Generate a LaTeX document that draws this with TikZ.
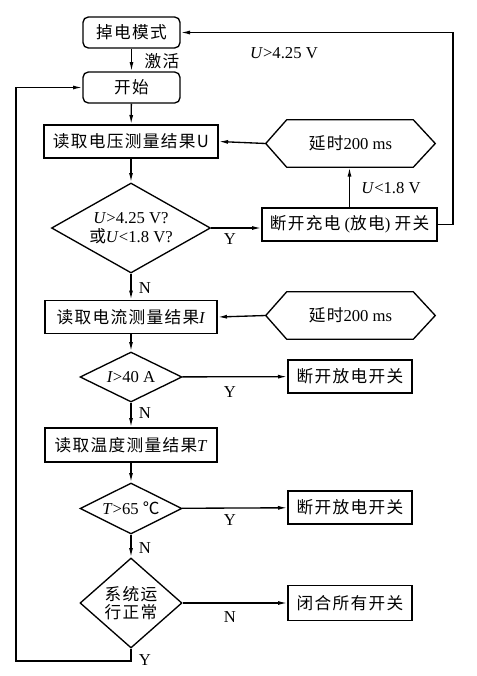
\documentclass[tikz,border=0pt]{standalone}
\usepackage{fontspec}
\setmainfont{Liberation Serif}
\newfontfamily\cjk[LetterSpace=8]{Noto Sans CJK SC}
\usetikzlibrary{arrows.meta}
\usetikzlibrary{shapes.geometric}

\begin{document}
\begin{tikzpicture}[x=0.75pt,y=0.75pt,yscale=-1,xscale=1,
  every node/.style={font=\fontsize{12.5}{14}\selectfont},
  arr/.style={line width=1pt,-{Latex[length=7pt,width=3pt]}},
  termbox/.style={draw,line width=1pt,rounded corners=4pt,minimum width=72.75pt,minimum height=23.25pt,inner sep=0pt},
  procbox/.style={draw,line width=1pt,minimum height=24.75pt,inner sep=0pt},
  decide/.style={draw,line width=1pt,diamond,inner sep=0pt,align=center},
  waitbox/.style={minimum width=126.75pt,minimum height=35.25pt,inner sep=0pt},
  lbl/.style={inner sep=0.75pt}
]
\useasboundingbox (0,0) rectangle (477,676);

\node[termbox] (pd) at (131.5,32.5) {\cjk 掉电模式};
\node[termbox] (start) at (131.5,87.5) {\cjk 开始};
\node[procbox,minimum width=130.5pt] (vbox) at (131,141.5) {\cjk 读取电压测量结果U};
\node[waitbox] (w1) at (350.5,143.5) {{\cjk 延时}200 ms};
\node[decide,aspect=1.77,minimum width=119.25pt,minimum height=67.5pt] (d1) at (131,228) {\textit{U}>4.25 V?\\{\cjk 或}\textit{U}<1.8 V?};
\node[procbox,minimum width=131.25pt] (cut) at (349.5,224.5) {{\cjk 断开充电} ({\cjk 放电}) {\cjk 开关}};
\node[procbox,minimum width=129pt] (ibox) at (131,317) {{\cjk 读取电流测量结果}\textit{I}};
\node[waitbox] (w2) at (350.5,315.5) {{\cjk 延时}200 ms};
\node[decide,aspect=2,minimum width=76.5pt,minimum height=37.5pt] (d2) at (131,377) {\textit{I}>40 A};
\node[procbox,minimum width=93pt] (off1) at (350,376.5) {\cjk 断开放电开关};
\node[procbox,minimum width=129pt,minimum height=25.5pt] (tbox) at (131,445) {{\cjk 读取温度测量结果}\textit{T}};
\node[decide,aspect=2,minimum width=76.5pt,minimum height=38.25pt] (d3) at (131,508.5) {\textit{T}>65 {\cjk ℃}};
\node[procbox,minimum width=93pt] (off2) at (350,507.5) {\cjk 断开放电开关};
\node[decide,aspect=1.15,minimum width=76.5pt,minimum height=67.5pt] (d4) at (131,603) {\cjk 系统运\\\cjk 行正常};
\node[procbox,minimum width=93pt,minimum height=26.25pt] (close) at (350,603) {\cjk 闭合所有开关};

\draw[line width=1pt] (w1.west) -- ([xshift=15.75pt]w1.north west) -- ([xshift=-16.5pt]w1.north east) -- (w1.east) -- ([xshift=-16.5pt]w1.south east) -- ([xshift=15.75pt]w1.south west) -- cycle;
\draw[line width=1pt] (w2.west) -- ([xshift=15.75pt]w2.north west) -- ([xshift=-16.5pt]w2.north east) -- (w2.east) -- ([xshift=-16.5pt]w2.south east) -- ([xshift=15.75pt]w2.south west) -- cycle;

\coordinate (rc) at (453,32.5);
\coordinate (lc) at (16,661);

\draw[arr] (pd) -- (start);
\draw[arr] (start) -- (vbox);
\draw[arr] (vbox) -- (d1);
\draw[arr] (w1.west) -- (vbox.east);
\draw[arr] (d1.east) -- (d1.east -| cut.west);
\draw[arr] (cut.north) -- (cut.north |- w1.south);
\draw[arr] (cut.east) -| (rc) -- (pd.east);
\draw[arr] (d1) -- (ibox);
\draw[arr] (w2.west) -- (ibox.east);
\draw[arr] (ibox) -- (d2);
\draw[arr] (d2) -- (off1);
\draw[arr] (d2) -- (tbox);
\draw[arr] (tbox) -- (d3);
\draw[arr] (d3) -- (off2);
\draw[arr] (d3) -- (d4);
\draw[arr] (d4) -- (close);
\draw[arr] (d4.south) |- (lc) |- (start.west);

\node[lbl] (act) at (162,61) {\cjk 激活};
\node[lbl] (hi) at (284,53) {\textit{U}>4.25 V};
\node[lbl] (lo) at (391,188) {\textit{U}<1.8 V};
\node[lbl] (y1) at (230,239) {Y};
\node[lbl] (n1) at (145,288) {N};
\node[lbl] (y2) at (230,392) {Y};
\node[lbl] (n2) at (145,413) {N};
\node[lbl] (y3) at (230,520) {Y};
\node[lbl] (n3) at (145,548) {N};
\node[lbl] (n4) at (230,617) {N};
\node[lbl] (y4) at (145,660) {Y};

\end{tikzpicture}
\end{document}
